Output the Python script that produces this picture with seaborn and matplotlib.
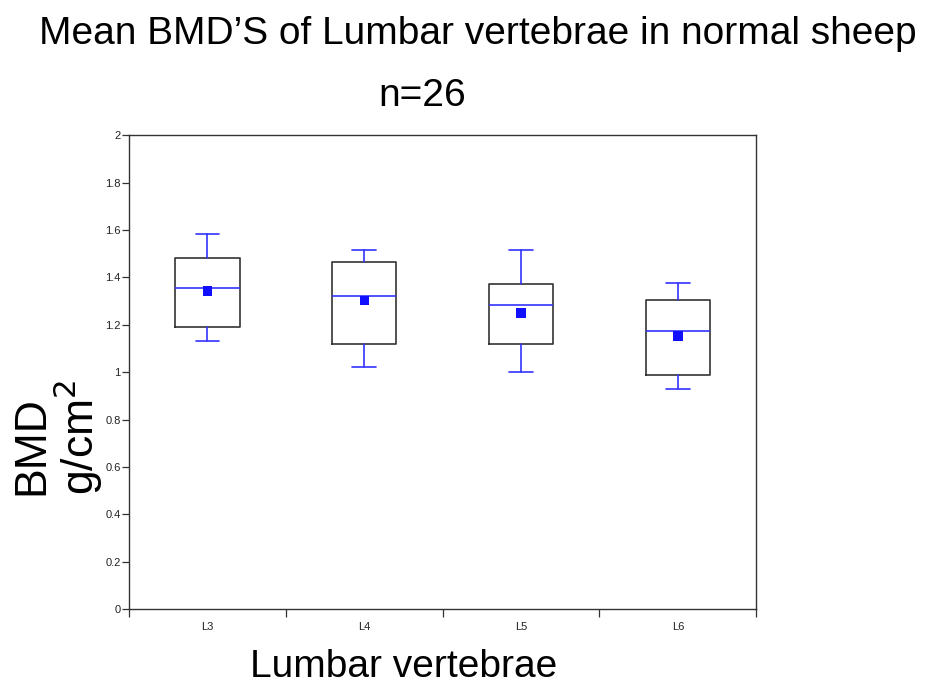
import numpy as np
import pandas as pd
import matplotlib
matplotlib.use("Agg")
import matplotlib.pyplot as plt
import seaborn as sns

# box summary per vertebra
vertebrae = ["L3", "L4", "L5", "L6"]
whisker_low = [1.13, 1.02, 1.00, 0.93]
q1 = [1.19, 1.12, 1.12, 0.99]
median = [1.355, 1.32, 1.285, 1.175]
q3 = [1.48, 1.465, 1.37, 1.305]
whisker_high = [1.585, 1.515, 1.515, 1.375]
mean = [1.343, 1.302, 1.25, 1.153]

yticks = [0, 0.2, 0.4, 0.6, 0.8, 1, 1.2, 1.4, 1.6, 1.8, 2]

sns.set_style("white")
plt.rcParams['font.family'] = ['Liberation Sans', 'DejaVu Sans']
plt.rcParams['text.color'] = 'black'

blue = "#3333ff"

fig = plt.figure(figsize=(9.28, 6.86), dpi=100)
ax = fig.add_axes([0.139, 0.112, 0.676, 0.691])

stats = []
for i, name in enumerate(vertebrae):
    stats.append({
        "label": name,
        "whislo": whisker_low[i],
        "q1": q1[i],
        "med": median[i],
        "q3": q3[i],
        "whishi": whisker_high[i],
        "fliers": [],
    })

ax.bxp(stats, positions=range(len(vertebrae)), widths=0.41, showfliers=False,
       boxprops=dict(color="#333333", linewidth=1.2),
       whiskerprops=dict(color=blue, linewidth=1.2),
       capprops=dict(color=blue, linewidth=1.2),
       medianprops=dict(color=blue, linewidth=1.2),
       capwidths=0.15)

df = pd.DataFrame({"pos": range(len(vertebrae)), "mean": mean})
sns.scatterplot(data=df, x="pos", y="mean", ax=ax, marker="s", s=45,
                color="#1010ff", edgecolor="none", zorder=5)

ax.set_xlim(-0.5, len(vertebrae) - 0.5)
ax.set_ylim(0, 2)
ax.set_yticks(yticks)
ax.set_yticklabels(["%g" % t for t in yticks], fontsize=8, color="#222222")
ax.set_xticks(np.arange(-0.5, len(vertebrae), 1.0))
ax.set_xticklabels([])
ax.set_xticks(range(len(vertebrae)), minor=True)
ax.set_xticklabels(vertebrae, minor=True, fontsize=8, color="#222222")
ax.tick_params(axis="x", which="major", bottom=True, direction="out", length=6,
               width=0.9, color="#333333")
ax.tick_params(axis="x", which="minor", bottom=True, length=0, pad=9)
ax.tick_params(axis="y", left=True, direction="out", length=5, width=0.9,
               color="#333333", pad=1)
ax.set_xlabel("")
ax.set_ylabel("")
for s in ax.spines.values():
    s.set_color("#333333")
    s.set_linewidth(1.0)

fig.text(0.515, 0.950, "Mean BMD\u2019S of Lumbar vertebrae in normal sheep",
         ha="center", va="center", fontsize=28)
fig.text(0.455, 0.860, "n=26", ha="center", va="center", fontsize=28)
fig.text(0.435, 0.028, "Lumbar vertebrae", ha="center", va="center", fontsize=28)
fig.text(0.034, 0.350, "BMD", rotation=90, ha="center", va="center", fontsize=32)
fig.text(0.084, 0.362, "g/cm$^2$", rotation=90, ha="center", va="center", fontsize=32)

fig.savefig("out.png", dpi=100)
